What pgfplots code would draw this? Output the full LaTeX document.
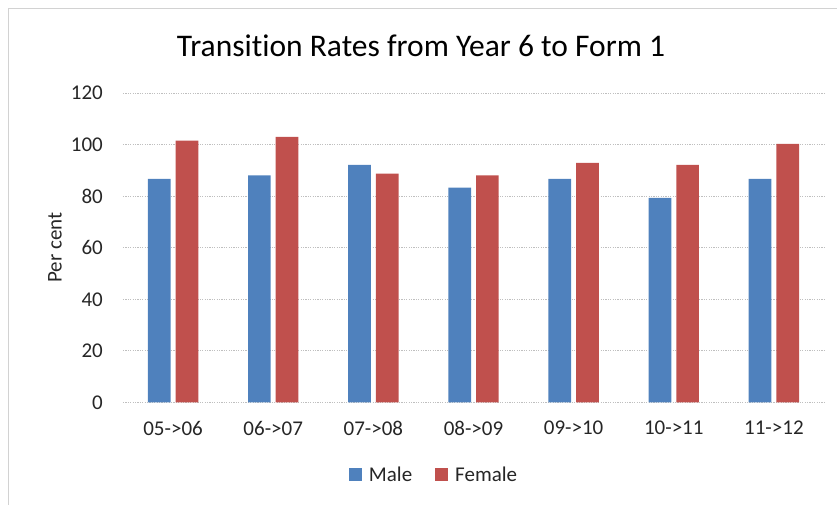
\documentclass[border=0pt]{standalone}
\usepackage{pgfplots}
\pgfplotsset{compat=1.18}
\usepackage{fontspec}
\setmainfont{Carlito}[Ligatures=NoCommon]
\definecolor{mblue}{HTML}{4F81BD}
\definecolor{fred}{HTML}{C0504D}
\definecolor{gridc}{HTML}{BFBFBF}
\definecolor{txt}{HTML}{262626}
\begin{document}
\begin{tikzpicture}
\path[use as bounding box] (-123pt,-102.5pt) rectangle (714pt,402.5pt);
\draw[gridc!70, line width=0.8pt] (-115pt,-102.5pt) -- (-115pt,394.5pt) -- (714pt,394.5pt);
\begin{axis}[
  scale only axis,
  width=701pt, height=309.5pt,
  ymin=0, ymax=120,
  xmin=-0.5, xmax=6.5,
  ytick={0,20,...,120},
  xtick=data,
  xticklabels={05->06,06->07,07->08,08->09,09->10,10->11,11->12},
  ybar=5pt, bar width=22.7pt,
  axis line style={draw=none},
  major tick length=0pt,
  ymajorgrids,
  grid style={gridc, line width=0.9pt, dash pattern=on 1.2pt off 1.2pt},
  /pgf/number format/assume math mode=true,
  ticklabel style={font=\fontsize{21}{25}\selectfont, text=txt, inner sep=0pt},
  yticklabel style={anchor=east, xshift=-20pt},
  xticklabel style={anchor=center, yshift=-25.5pt},
  ylabel={Per cent},
  ylabel style={font=\fontsize{21}{25}\selectfont, text=txt, at={(axis description cs:-0.097,0.5)}, anchor=center},
  legend style={at={(axis description cs:0.4437,-0.234)}, anchor=center, draw=none,
    font=\fontsize{21}{25}\selectfont, text=txt, legend columns=2,
    /tikz/every odd column/.append style={column sep=5pt},
    /tikz/every even column/.append style={column sep=21pt}},
  legend image code/.code={\fill[#1] (0pt,-6.5pt) rectangle (13pt,6.5pt);},
]
\addplot[fill=mblue, draw=none] coordinates {(0,86.7) (1,88.1) (2,92.1) (3,83.3) (4,86.7) (5,79.3) (6,86.7)};
\addplot[fill=fred, draw=none] coordinates {(0,101.5) (1,103.0) (2,88.7) (3,88.1) (4,92.9) (5,92.1) (6,100.3)};
\legend{Male, Female}
\end{axis}
\node[font=\fontsize{31.5}{36}\selectfont, text=black] at (298pt,357pt) {Transition Rates from Year 6 to Form 1};
\end{tikzpicture}
\end{document}
